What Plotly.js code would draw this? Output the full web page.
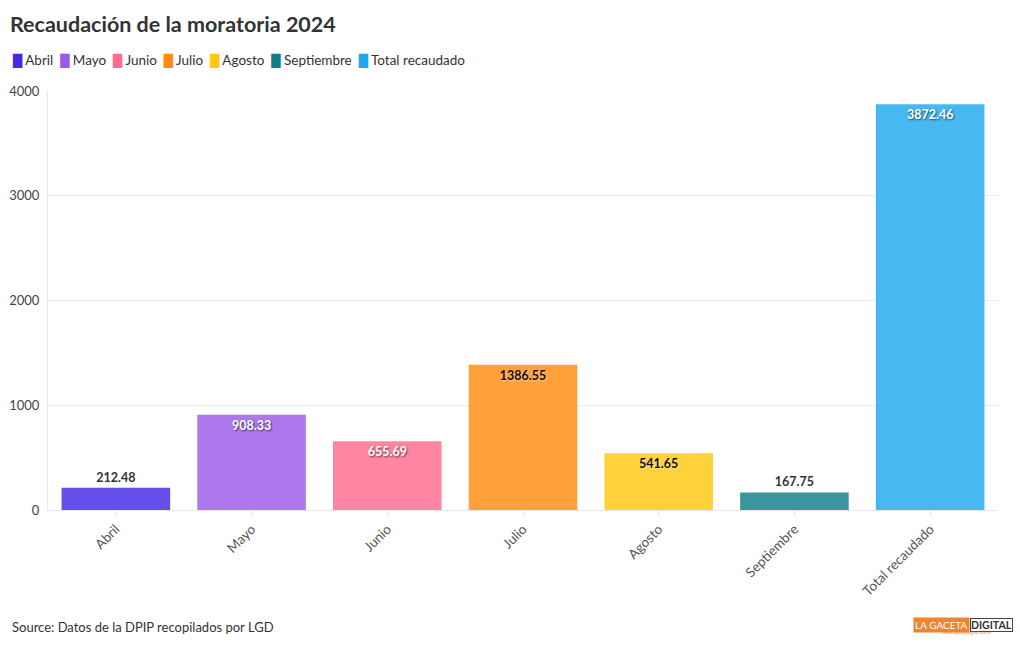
<!DOCTYPE html>
<html><head><meta charset="utf-8">
<script src="https://cdn.plot.ly/plotly-3.0.1.min.js"></script>
<style>body{margin:0;background:#fff}#c{width:1020px;height:650px}</style>
</head><body><div id="c"></div>
<script>
const categories = ["Abril","Mayo","Junio","Julio","Agosto","Septiembre","Total recaudado"];
const values = [212.48, 908.33, 655.69, 1386.55, 541.65, 167.75, 3872.46];
const labels = ["212.48","908.33","655.69","1386.55","541.65","167.75","3872.46"];
const colors = ["#4328e7","#9a5ae8","#ff6b8f","#ff8b0f","#ffc710","#107e88","#1fa8ef"];
const textColors = ["#333333","#ffffff","#ffffff","#111111","#111111","#333333","#ffffff"];
const positions = ["outside","inside","inside","inside","inside","outside","inside"];
const shadows = ["none","1px 1px 2px rgba(0,0,0,0.6)","1px 1px 2px rgba(0,0,0,0.6)","1px 1px 2px rgba(255,255,255,0.5)","1px 1px 2px rgba(255,255,255,0.5)","none","1px 1px 2px rgba(0,0,0,0.6)"];
const FONT = "Source Sans Pro, Lato, Noto Sans, sans-serif";

const traces = categories.map((c,i)=>({
  type:'bar', name:c, x:[c], y:[values[i]], text:[labels[i]],
  textposition:positions[i], insidetextanchor:'end', constraintext:'none', cliponaxis:false,
  textfont:{family:FONT, size:12.5, color:textColors[i], weight:'bold', shadow:shadows[i]},
  marker:{color:colors[i], opacity:0.82, line:{width:0}},
  hoverinfo:'x+y', showlegend:false
}));

// compact legend built from the category names and colours
const legendText = categories.map((c,i)=>
  `<span style="color:${colors[i]};font-family:DejaVu Sans;font-size:12px">█</span> ${c}`).join('  ');

const layout = {
  width:1020, height:650,
  margin:{l:48, r:22, t:91, b:140},
  paper_bgcolor:'#fff', plot_bgcolor:'#fff',
  font:{family:FONT, color:'#444'},
  barmode:'overlay', bargap:0.2,
  title:{text:'Recaudación de la moratoria 2024', x:10/1020, xanchor:'left', xref:'container',
         y:1-24/650, yanchor:'middle', yref:'container',
         font:{family:FONT, size:21.5, color:'#333', weight:'bold'}},
  showlegend:false,
  xaxis:{type:'category', categoryorder:'array', categoryarray:categories,
         tickangle:-45, tickfont:{family:FONT, size:13.5, color:'#555'},
         showline:true, linecolor:'#e8e8e8', ticks:'outside', ticklen:5, tickcolor:'#e8e8e8',
         showgrid:false, fixedrange:true},
  yaxis:{range:[0,4000], tickvals:[0,1000,2000,3000,4000], tickfont:{family:FONT, size:13, color:'#444'},
         gridcolor:'#ececec', zeroline:false, showline:true, linecolor:'#e8e8e8',
         ticks:'outside', ticklen:5, tickcolor:'#fff', fixedrange:true},
  annotations:[
    {text:legendText, xref:'paper', yref:'paper', x:-38/950, xanchor:'left',
     y:1+31/419, yanchor:'middle', showarrow:false, align:'left',
     font:{family:FONT, size:13.5, color:'#333'}},
    {text:'Source: Datos de la DPIP recopilados por LGD', xref:'paper', yref:'paper',
     x:-38/950, xanchor:'left', y:-(627-510)/419, yanchor:'middle', showarrow:false,
     font:{family:FONT, size:13, color:'#333'}},
    {text:'LA GACETA', xref:'paper', yref:'paper', x:(970-48)/950, xanchor:'right',
     y:-(625-510)/419, yanchor:'middle', showarrow:false, bgcolor:'#f0842c', borderpad:1,
     font:{family:FONT, size:10, color:'#fff'}},
    {text:'DIGITAL', xref:'paper', yref:'paper', x:(970-48)/950, xanchor:'left',
     y:-(625-510)/419, yanchor:'middle', showarrow:false, bgcolor:'#fff', bordercolor:'#444', borderwidth:1, borderpad:0,
     font:{family:FONT, size:10.5, color:'#333', weight:'bold'}},
    {text:'www.lagacetadigital.com.ar', xref:'paper', yref:'paper', x:(967-48)/950, xanchor:'center',
     y:-(632-510)/419, yanchor:'middle', showarrow:false,
     font:{family:FONT, size:4, color:'#f0842c'}}
  ]
};
Plotly.newPlot('c', traces, layout, {displayModeBar:false, responsive:false});
</script></body></html>
